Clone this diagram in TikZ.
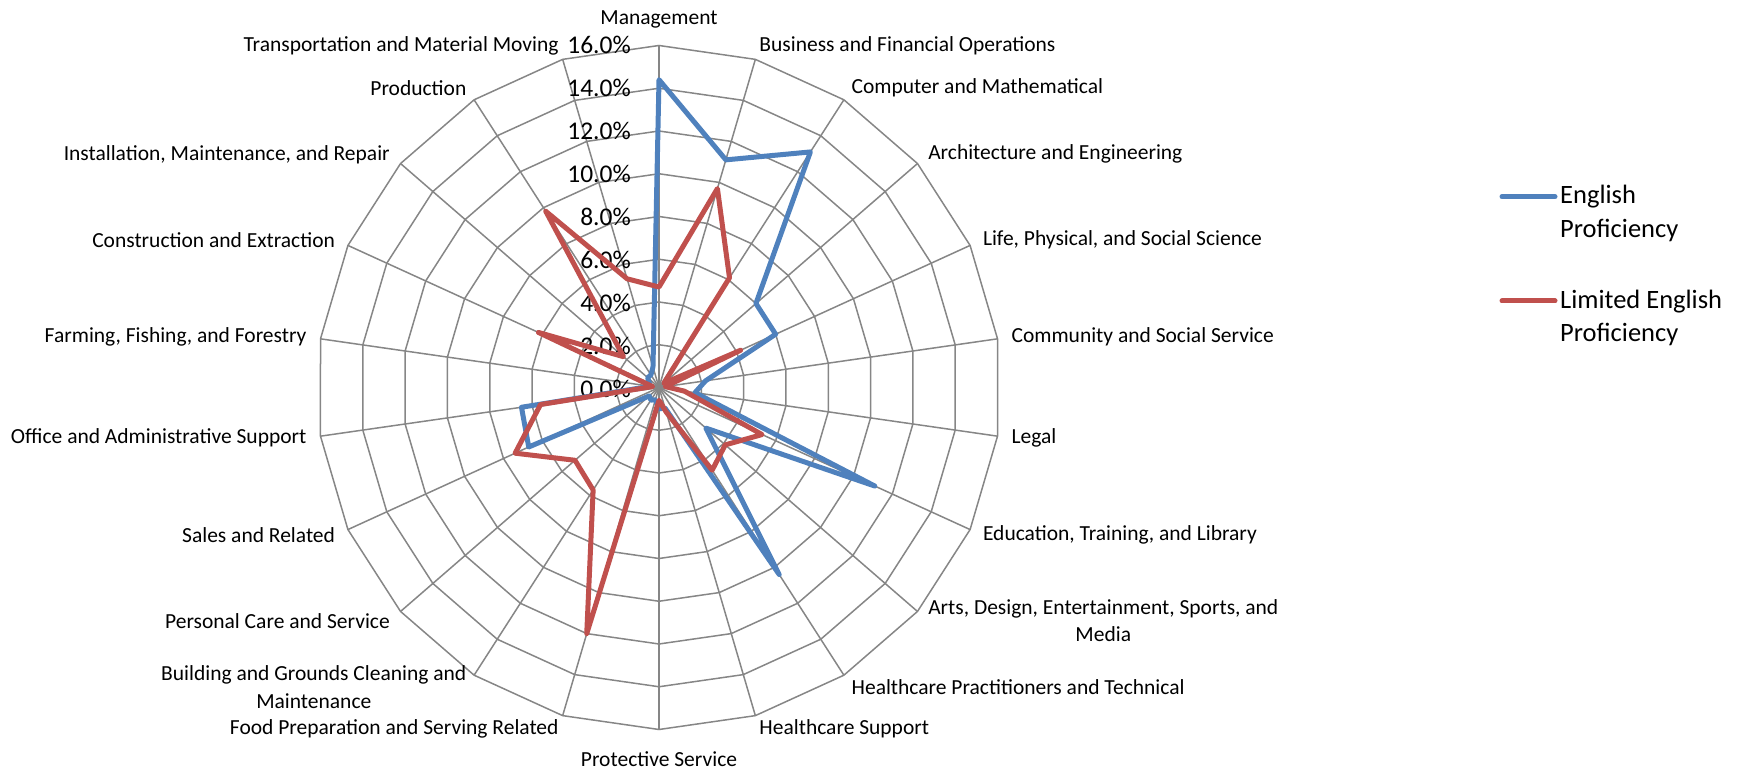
\documentclass[tikz,border=0pt]{standalone}
\usepackage{fontspec}
\setmainfont{Carlito}
\definecolor{gridgray}{HTML}{868686}
\definecolor{engblue}{HTML}{4F81BD}
\definecolor{lepred}{HTML}{C0504D}

\begin{document}
\begin{tikzpicture}[x=1pt,y=1pt,
  grid line/.style={draw=gridgray,line width=1.5pt},
  cat label/.style={font=\fontsize{21.5}{27.5}\selectfont,align=center,inner sep=0pt},
  tick label/.style={font=\fontsize{25.5}{30}\selectfont,anchor=east,inner sep=0pt},
  legend text/.style={font=\fontsize{26.5}{33.3}\selectfont,align=left,anchor=west,inner sep=0pt},
  series/.style={line width=5pt,line join=round,line cap=round}]
  \useasboundingbox (0,0) rectangle (1744,771);

\begin{scope}[shift={(659,383.5)}]
  % spokes and rings, 2% = 42.75
  \foreach \k in {0,...,21}
    \draw[grid line] (0,0) -- ({90-\k*360/22}:342);
  \foreach \r in {1,...,8}
    \draw[grid line] (90:{\r*42.75}) \foreach \k in {1,...,21} { -- ({90-\k*360/22}:{\r*42.75}) } -- cycle;

  \foreach \i/\t in {0/0.0,1/2.0,2/4.0,3/6.0,4/8.0,5/10.0,6/12.0,7/14.0,8/16.0}
    \node[tick label] (t\i) at (-28,{\i*43-1}) {\t\%};

  % category labels
  \node[cat label,anchor=south] (c0) at (90:359.5) {Management};
  \node[cat label,anchor=west] (c1) at ({90-1*360/22}:356) {Business and Financial Operations};
  \node[cat label,anchor=west] (c2) at ({90-2*360/22}:356) {Computer and Mathematical};
  \node[cat label,anchor=west] (c3) at ({90-3*360/22}:356) {Architecture and Engineering};
  \node[cat label,anchor=west] (c4) at ({90-4*360/22}:356) {Life, Physical, and Social Science};
  \node[cat label,anchor=west] (c5) at ({90-5*360/22}:356) {Community and Social Service};
  \node[cat label,anchor=west] (c6) at ({90-6*360/22}:356) {Legal};
  \node[cat label,anchor=west] (c7) at ({90-7*360/22}:356) {Education, Training, and Library};
  \node[cat label,anchor=west] (c8) at ({90-8*360/22}:356) {Arts, Design, Entertainment, Sports, and\\Media};
  \node[cat label,anchor=west] (c9) at ({90-9*360/22}:356) {Healthcare Practitioners and Technical};
  \node[cat label,anchor=west] (c10) at ({90-10*360/22}:356) {Healthcare Support};
  \node[cat label,anchor=north] (c11) at (-90:364) {Protective Service};
  \node[cat label,anchor=east] (c12) at ({90-12*360/22}:356) {Food Preparation and Serving Related};
  \node[cat label,anchor=east] (c13) at ({90-13*360/22}:356) {Building and Grounds Cleaning and\\Maintenance};
  \node[cat label,anchor=east] (c14) at ({90-14*360/22}:356) {Personal Care and Service};
  \node[cat label,anchor=east] (c15) at ({90-15*360/22}:356) {Sales and Related};
  \node[cat label,anchor=east] (c16) at ({90-16*360/22}:356) {Office and Administrative Support};
  \node[cat label,anchor=east] (c17) at ({90-17*360/22}:356) {Farming, Fishing, and Forestry};
  \node[cat label,anchor=east] (c18) at ({90-18*360/22}:356) {Construction and Extraction};
  \node[cat label,anchor=east] (c19) at ({90-19*360/22}:356) {Installation, Maintenance, and Repair};
  \node[cat label,anchor=east] (c20) at ({90-20*360/22}:356) {Production};
  \node[cat label,anchor=east] (c21) at ({90-21*360/22}:356) {Transportation and Material Moving};

  % data points, in percent
  \foreach \v [count=\k from 0] in {14.4,11.1,13.1,6.0,6.0,2.2,1.7,11.1,2.9,10.4,1.0,1.0,0.6,0.7,0.6,6.7,6.5,0.4,0.5,0.7,0.7,1.0}
    \coordinate (b\k) at ({90-\k*360/22}:{\v*42.75/2});
  \foreach \v [count=\k from 0] in {4.7,9.7,6.1,0.3,4.2,0.3,1.2,5.3,4.1,4.6,1.2,0.6,12.0,5.7,5.2,7.4,5.6,0.3,6.2,2.2,9.8,5.3}
    \coordinate (r\k) at ({90-\k*360/22}:{\v*42.75/2});

  \draw[series,engblue] (b0) -- (b1) -- (b2) -- (b3) -- (b4) -- (b5) -- (b6) -- (b7) -- (b8) -- (b9) -- (b10)
    -- (b11) -- (b12) -- (b13) -- (b14) -- (b15) -- (b16) -- (b17) -- (b18) -- (b19) -- (b20) -- (b21) -- cycle;
  \draw[series,lepred] (r0) -- (r1) -- (r2) -- (r3) -- (r4) -- (r5) -- (r6) -- (r7) -- (r8) -- (r9) -- (r10)
    -- (r11) -- (r12) -- (r13) -- (r14) -- (r15) -- (r16) -- (r17) -- (r18) -- (r19) -- (r20) -- (r21) -- cycle;
\end{scope}

  % legend
  \coordinate (lb1) at (1502,574.3);
  \coordinate (lb2) at (1555,574.3);
  \coordinate (lr1) at (1502,470);
  \coordinate (lr2) at (1555,470);
  \draw[series,engblue] (lb1) -- (lb2);
  \draw[series,lepred] (lr1) -- (lr2);
  \node[legend text] (leng) at (1560,557.6) {English\\Proficiency};
  \node[legend text] (llep) at (1560,453) {Limited English\\Proficiency};
\end{tikzpicture}
\end{document}
